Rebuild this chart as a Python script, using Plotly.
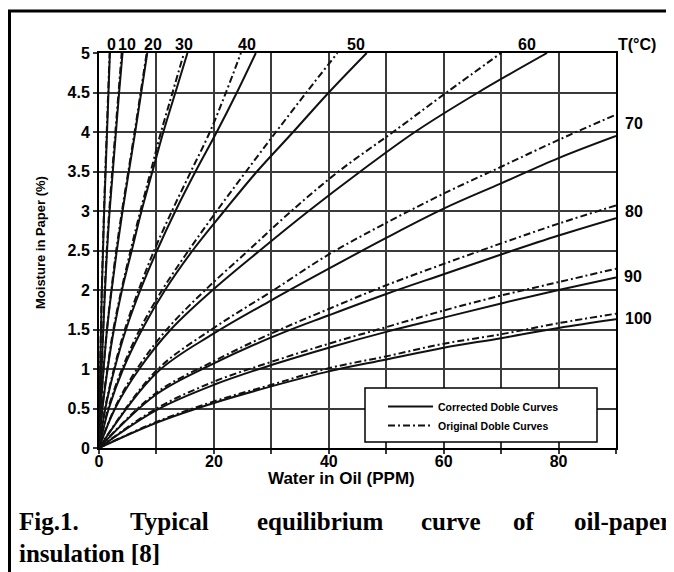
import plotly.graph_objects as go

# ---------------- data ----------------
# Moisture levels (%) used for the steep low-temperature curves (x = water in oil read at each level)
M_LEVELS = [0, 0.5, 1, 1.5, 2, 2.5, 3, 3.5, 4, 4.5, 5]
# Water-in-oil grid (ppm) used for the flatter high-temperature curves
W_GRID = [0, 10, 20, 30, 40, 50, 60, 70, 80, 90]

# Corrected Doble curves: water in oil (ppm) at each M_LEVELS value
cor_0 = [0, 0.1, 0.2, 0.35, 0.5, 0.7, 0.9, 1.15, 1.4, 1.65, 1.9]
cor_10 = [0, 0.2, 0.45, 0.75, 1.05, 1.4, 1.85, 2.4, 2.95, 3.5, 4.1]
cor_20 = [0, 0.3, 0.8, 1.4, 2.2, 3.1, 4.1, 5.2, 6.3, 7.35, 8.4]
cor_30 = [0, 0.6, 1.5, 2.6, 4.0, 5.7, 7.4, 9.3, 11.2, 13.3, 15.4]
cor_40 = [0, 1.1, 2.7, 4.7, 7.2, 10.1, 13.3, 16.8, 20.5, 24.0, 27.3]
cor_50 = [0, 1.7, 4.2, 7.5, 11.5, 16.3, 21.8, 27.5, 33.8, 40.0, 46.6]
cor_60 = [0, 2.8, 7.0, 12.5, 19.8, 28.0, 36.5, 45.5, 55.0, 66.0, 78.0]
# Original Doble curves: water in oil (ppm) at each M_LEVELS value
ori_0 = [0, 0.1, 0.2, 0.33, 0.48, 0.67, 0.87, 1.1, 1.35, 1.6, 1.85]
ori_10 = [0, 0.2, 0.43, 0.72, 1.0, 1.35, 1.78, 2.3, 2.85, 3.4, 3.95]
ori_20 = [0, 0.3, 0.78, 1.38, 2.15, 3.0, 4.0, 5.1, 6.2, 7.25, 8.3]
ori_30 = [0, 0.55, 1.45, 2.5, 3.9, 5.5, 7.2, 9.0, 10.8, 12.8, 14.8]
ori_40 = [0, 1.05, 2.6, 4.5, 6.9, 9.6, 12.7, 16.0, 19.3, 22.1, 24.7]
ori_50 = [0, 1.6, 4.0, 7.1, 11.0, 15.6, 20.5, 25.6, 30.8, 36.1, 41.5]
ori_60 = [0, 2.7, 6.6, 11.8, 18.5, 26.0, 33.5, 41.7, 51.2, 60.5, 70.0]

# Moisture in paper (%) at each W_GRID value
cor_70 = [0, 0.95, 1.45, 1.87, 2.27, 2.66, 3.03, 3.35, 3.67, 3.95]
cor_80 = [0, 0.68, 1.07, 1.40, 1.68, 1.95, 2.20, 2.45, 2.69, 2.91]
cor_90 = [0, 0.48, 0.80, 1.05, 1.27, 1.47, 1.65, 1.83, 2.00, 2.16]
cor_100 = [0, 0.32, 0.57, 0.78, 0.97, 1.12, 1.27, 1.39, 1.52, 1.63]
ori_70 = [0, 0.98, 1.52, 1.98, 2.45, 2.85, 3.22, 3.56, 3.90, 4.22]
ori_80 = [0, 0.70, 1.10, 1.45, 1.76, 2.06, 2.33, 2.59, 2.84, 3.07]
ori_90 = [0, 0.50, 0.84, 1.09, 1.32, 1.53, 1.74, 1.93, 2.10, 2.27]
ori_100 = [0, 0.33, 0.59, 0.80, 1.01, 1.16, 1.32, 1.44, 1.58, 1.70]

X_TICK_TEXT = ["0", "", "20", "", "40", "", "60", "", "80", ""]
Y_TICK_TEXT = ["0", "0.5", "1", "1.5", "2", "2.5", "3", "3.5", "4", "4.5", "5"]
TOP_TEMPS = ["0", "10", "20", "30", "40", "50", "60"]
RIGHT_TEMPS = ["70", "80", "90", "100"]
CAPTION_LINE1 = ["Fig.1.", "Typical", "equilibrium", "curve", "of", "oil-paper"]
CAPTION_LINE2 = "insulation [8]"

# ---------------- figure ----------------
# the page body has an 8 px margin, so the figure starts at (8, 8) in the window
OFF = 8
W_PX, H_PX = 674 - OFF, 572 - OFF
PLOT_L, PLOT_R, PLOT_T, PLOT_B = 99, 616, 53, 448      # plot area in window pixels
ML, MR = PLOT_L - OFF, 674 - PLOT_R
MT, MB = PLOT_T - OFF, 572 - PLOT_B
PW, PH = PLOT_R - PLOT_L, PLOT_B - PLOT_T


def px2x(px):
    return (px - PLOT_L) / PW


def py2y(py):
    return (PLOT_B - py) / PH


SOLID = dict(color="#111111", width=2)
DASHDOT = dict(color="#111111", width=2, dash="7px,3px,2px,3px")

fig = go.Figure()

steep_cor = [cor_0, cor_10, cor_20, cor_30, cor_40, cor_50, cor_60]
steep_ori = [ori_0, ori_10, ori_20, ori_30, ori_40, ori_50, ori_60]
flat_cor = [cor_70, cor_80, cor_90, cor_100]
flat_ori = [ori_70, ori_80, ori_90, ori_100]

for i, (c, o) in enumerate(zip(steep_cor, steep_ori)):
    fig.add_trace(go.Scatter(x=o, y=M_LEVELS, mode="lines", line=DASHDOT,
                             line_shape="spline", name="Original Doble Curves",
                             showlegend=(i == 0), legendrank=2, hoverinfo="skip"))
    fig.add_trace(go.Scatter(x=c, y=M_LEVELS, mode="lines", line=SOLID,
                             line_shape="spline", name="Corrected Doble Curves",
                             showlegend=(i == 0), legendrank=1, hoverinfo="skip"))
for c, o in zip(flat_cor, flat_ori):
    fig.add_trace(go.Scatter(x=W_GRID, y=o, mode="lines", line=DASHDOT,
                             line_shape="spline", showlegend=False, hoverinfo="skip"))
    fig.add_trace(go.Scatter(x=W_GRID, y=c, mode="lines", line=SOLID,
                             line_shape="spline", showlegend=False, hoverinfo="skip"))

SANS = "Liberation Sans, Arial, Helvetica, sans-serif"
TICK_FONT = dict(family=SANS, size=16, color="black", weight="bold")

axis_common = dict(showgrid=True, gridcolor="#3a3a3a", gridwidth=1.5, zeroline=False,
                   showline=True, mirror=True, linecolor="black", linewidth=2,
                   ticks="outside", ticklen=4, tickwidth=1.5, tickcolor="#3a3a3a",
                   tickfont=TICK_FONT)

fig.update_xaxes(range=[0, 90], tickvals=W_GRID, ticktext=X_TICK_TEXT,
                 ticklabelstandoff=-6, **axis_common)
fig.update_yaxes(range=[0, 5], tickvals=M_LEVELS, ticktext=Y_TICK_TEXT, **axis_common)

annotations = []
# axis titles
annotations.append(dict(text="Water in Oil (PPM)", xref="paper", yref="paper",
                        x=px2x(341), y=py2y(478), showarrow=False,
                        xanchor="center", yanchor="middle",
                        font=dict(family=SANS, size=17, color="black", weight="bold")))
annotations.append(dict(text="Moisture in Paper (%)", xref="paper", yref="paper",
                        x=px2x(40), y=py2y(243), showarrow=False, textangle=-90,
                        xanchor="center", yanchor="middle",
                        font=dict(family=SANS, size=13, color="black", weight="bold")))
# temperature labels along the top
top_px = [111, 127, 153, 184, 247, 356, 527]
for t, px in zip(TOP_TEMPS, top_px):
    annotations.append(dict(text=t, xref="paper", yref="paper", x=px2x(px), y=py2y(45),
                            showarrow=False, xanchor="center", yanchor="middle",
                            font=TICK_FONT))
annotations.append(dict(text="T(°C)", xref="paper", yref="paper", x=px2x(637), y=py2y(45),
                        showarrow=False, xanchor="center", yanchor="middle", font=TICK_FONT))
right_pos = [(634, 124), (634, 211), (633, 276), (638, 318)]
for t, (px, py) in zip(RIGHT_TEMPS, right_pos):
    annotations.append(dict(text=t, xref="paper", yref="paper", x=px2x(px), y=py2y(py),
                            showarrow=False, xanchor="center", yanchor="middle", font=TICK_FONT))

# justified caption
CAP_FONT = dict(family="Liberation Serif, Times New Roman, serif", size=25, color="black", weight="bold")
cap_px = [17, 128, 255, 419, 511, 572]
for wd, px in zip(CAPTION_LINE1, cap_px):
    annotations.append(dict(text=wd, xref="paper", yref="paper", x=px2x(px), y=py2y(521),
                            showarrow=False, xanchor="left", yanchor="middle", font=CAP_FONT))
annotations.append(dict(text=CAPTION_LINE2, xref="paper", yref="paper", x=px2x(17), y=py2y(553),
                        showarrow=False, xanchor="left", yanchor="middle", font=CAP_FONT))

shapes = [
    # outer figure frame (cut at the right and bottom)
    dict(type="rect", xref="paper", yref="paper", x0=px2x(9.5), x1=px2x(700), y0=py2y(620), y1=py2y(11),
         line=dict(color="black", width=3), layer="above"),
    # legend box
    dict(type="rect", xref="paper", yref="paper", x0=px2x(365), x1=px2x(597), y0=py2y(442), y1=py2y(388),
         line=dict(color="black", width=1.5), fillcolor="white", layer="above"),
]

fig.update_layout(
    width=W_PX, height=H_PX,
    margin=dict(l=ML, r=MR, t=MT, b=MB),
    paper_bgcolor="white", plot_bgcolor="white",
    annotations=annotations, shapes=shapes,
    showlegend=True,
    legend=dict(x=px2x(383), y=py2y(392), xanchor="left", yanchor="top",
                bgcolor="rgba(0,0,0,0)", borderwidth=0,
                font=dict(family=SANS, size=10.5, color="black", weight="bold"),
                itemwidth=45, tracegroupgap=0),
)

fig.write_html("out.html")
